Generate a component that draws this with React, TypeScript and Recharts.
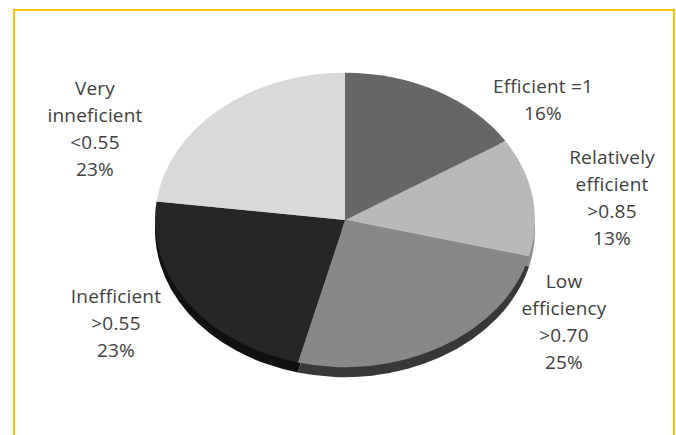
import React from 'react';
import { PieChart, Pie, Cell } from 'recharts';

const categories = [
  ['Efficient =1'],
  ['Relatively', 'efficient', '>0.85'],
  ['Low', 'efficiency', '>0.70'],
  ['Inefficient', '>0.55'],
  ['Very', 'inneficient', '<0.55'],
];
const shares = [16, 13, 25, 23, 23];

const topColors = ['#666666', '#b9b9b9', '#888888', '#262626', '#d9d9d9'];
const sideColors = ['#444444', '#8a8a8a', '#383838', '#111111', '#aaaaaa'];

// label centre offsets from the pie centre, in screen pixels
const labelOffsets: Array<[number, number]> = [
  [198, -134],
  [267, -63],
  [219, 61],
  [-229, 76],
  [-250, -132],
];

const SQUASH = 0.775;
const CX = 340;
const CY = 216 / SQUASH;
const R = 190;
const DEPTH = 10 / SQUASH;

const data = categories.map((lines, i) => ({ name: lines.join(' '), lines, value: shares[i] }));

function renderLabel(props: any) {
  const { index, cx, cy } = props;
  const d = data[index];
  const [dx, dy] = labelOffsets[index];
  const x = cx + dx;
  const y = cy + dy / SQUASH;
  const lines = [...d.lines, `${d.value}%`];
  return (
    <text
      key={`lbl-${index}`}
      transform={`translate(${x} ${y}) scale(1 ${1 / SQUASH})`}
      textAnchor="middle"
      fill="#404040"
      fontSize={19}
      letterSpacing={0.2}
      fontFamily="'Open Sans', sans-serif"
    >
      {lines.map((t, i) => (
        <tspan key={i} x={0} dy={i === 0 ? 7 : 27}>
          {t}
        </tspan>
      ))}
    </text>
  );
}

export default function App() {
  return (
    <div style={{ position: 'fixed', left: 0, top: 0, width: 676, height: 435, background: '#fff', overflow: 'hidden' }}>
      <div
        style={{
          position: 'absolute',
          left: 13,
          top: 9,
          width: 658,
          height: 440,
          border: '2px solid #FFC000',
        }}
      />
      <div
        style={{
          position: 'absolute',
          left: 0,
          top: 0,
          transform: `scaleY(${SQUASH})`,
          transformOrigin: '0 0',
        }}
      >
        <PieChart width={676} height={Math.round(435 / SQUASH)}>
          <Pie
            data={data}
            dataKey="value"
            cx={CX}
            cy={CY + DEPTH}
            outerRadius={R}
            startAngle={90}
            endAngle={-270}
            stroke="none"
            isAnimationActive={false}
          >
            {data.map((d, i) => (
              <Cell key={d.name} fill={sideColors[i]} />
            ))}
          </Pie>
          <Pie
            data={data}
            dataKey="value"
            cx={CX}
            cy={CY}
            outerRadius={R}
            startAngle={90}
            endAngle={-270}
            stroke="none"
            label={renderLabel}
            labelLine={false}
            isAnimationActive={false}
          >
            {data.map((d, i) => (
              <Cell key={d.name} fill={topColors[i]} />
            ))}
          </Pie>
        </PieChart>
      </div>
    </div>
  );
}
